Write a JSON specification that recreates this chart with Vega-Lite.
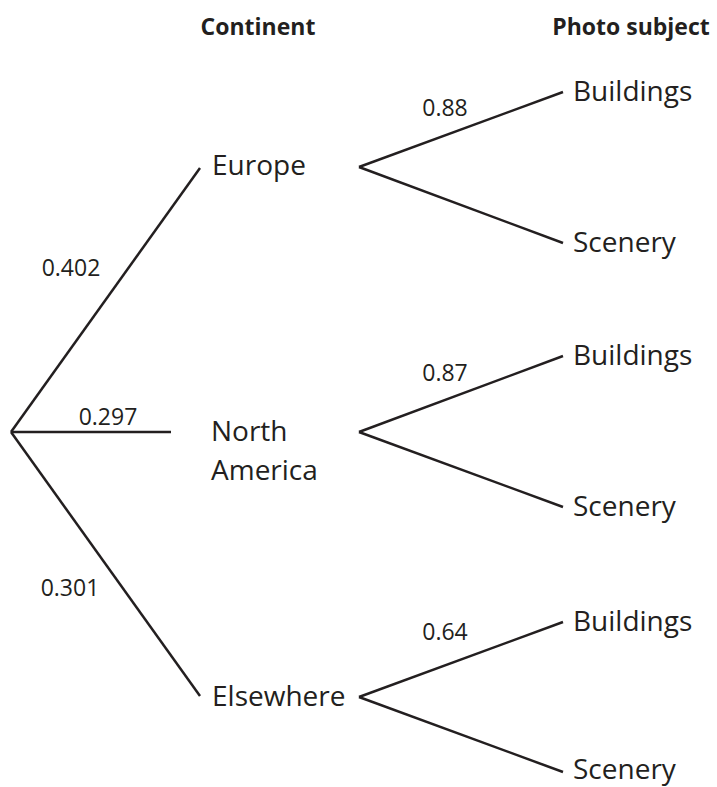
{
  "$schema": "https://vega.github.io/schema/vega-lite/v6.json",
  "width": 717,
  "height": 787,
  "autosize": {"type": "fit", "contains": "padding"},
  "padding": 0,
  "background": "white",
  "config": {"view": {"stroke": null}},
  "datasets": {
    "branches": [
      {"from": "Root", "to": "Europe", "x": 11, "y": 432, "x2": 200, "y2": 168},
      {"from": "Root", "to": "North America", "x": 11, "y": 432, "x2": 171, "y2": 432},
      {"from": "Root", "to": "Elsewhere", "x": 11, "y": 432, "x2": 200, "y2": 696},
      {"from": "Europe", "to": "Buildings", "x": 359, "y": 167, "x2": 563, "y2": 92},
      {"from": "Europe", "to": "Scenery", "x": 359, "y": 167, "x2": 563, "y2": 243},
      {"from": "North America", "to": "Buildings", "x": 359, "y": 432, "x2": 563, "y2": 356},
      {"from": "North America", "to": "Scenery", "x": 359, "y": 432, "x2": 563, "y2": 507},
      {"from": "Elsewhere", "to": "Buildings", "x": 359, "y": 697, "x2": 563, "y2": 622},
      {"from": "Elsewhere", "to": "Scenery", "x": 359, "y": 697, "x2": 563, "y2": 772}
    ],
    "nodes": [
      {"label": "Europe", "x": 212, "y": 167},
      {"label": "North\nAmerica", "x": 211, "y": 433},
      {"label": "Elsewhere", "x": 212, "y": 698},
      {"label": "Buildings", "x": 573, "y": 93},
      {"label": "Scenery", "x": 573, "y": 244},
      {"label": "Buildings", "x": 573, "y": 357},
      {"label": "Scenery", "x": 573, "y": 508},
      {"label": "Buildings", "x": 573, "y": 623},
      {"label": "Scenery", "x": 573, "y": 771}
    ],
    "probs": [
      {"p": "0.402", "x": 71, "y": 268},
      {"p": "0.297", "x": 108, "y": 417},
      {"p": "0.301", "x": 70, "y": 588},
      {"p": "0.88", "x": 445, "y": 108},
      {"p": "0.87", "x": 445, "y": 373},
      {"p": "0.64", "x": 445, "y": 632}
    ],
    "headers": [
      {"h": "Continent", "x": 258, "y": 35},
      {"h": "Photo subject", "x": 631, "y": 35}
    ]
  },
  "layer": [
    {
      "data": {"name": "branches"},
      "mark": {"type": "rule", "stroke": "#231f20", "strokeWidth": 2.5, "strokeCap": "butt"},
      "encoding": {
        "x": {"field": "x", "type": "quantitative", "scale": {"domain": [0, 717], "nice": false, "zero": false}, "axis": null},
        "y": {"field": "y", "type": "quantitative", "scale": {"domain": [0, 787], "nice": false, "zero": false, "reverse": true}, "axis": null},
        "x2": {"field": "x2"},
        "y2": {"field": "y2"}
      }
    },
    {
      "data": {"name": "nodes"},
      "mark": {"type": "text", "align": "left", "baseline": "middle", "font": "Open Sans", "fontSize": 28, "color": "#231f20", "lineBreak": "\n", "lineHeight": 39},
      "encoding": {
        "x": {"field": "x", "type": "quantitative"},
        "y": {"field": "y", "type": "quantitative"},
        "text": {"field": "label"}
      }
    },
    {
      "data": {"name": "probs"},
      "mark": {"type": "text", "align": "center", "baseline": "middle", "dy": 1, "font": "Open Sans", "fontSize": 23, "color": "#231f20"},
      "encoding": {
        "x": {"field": "x", "type": "quantitative"},
        "y": {"field": "y", "type": "quantitative"},
        "text": {"field": "p"}
      }
    },
    {
      "data": {"name": "headers"},
      "mark": {"type": "text", "align": "center", "baseline": "alphabetic", "font": "Open Sans", "fontSize": 23, "fontWeight": "bold", "color": "#231f20"},
      "encoding": {
        "x": {"field": "x", "type": "quantitative"},
        "y": {"field": "y", "type": "quantitative"},
        "text": {"field": "h"}
      }
    }
  ]
}
